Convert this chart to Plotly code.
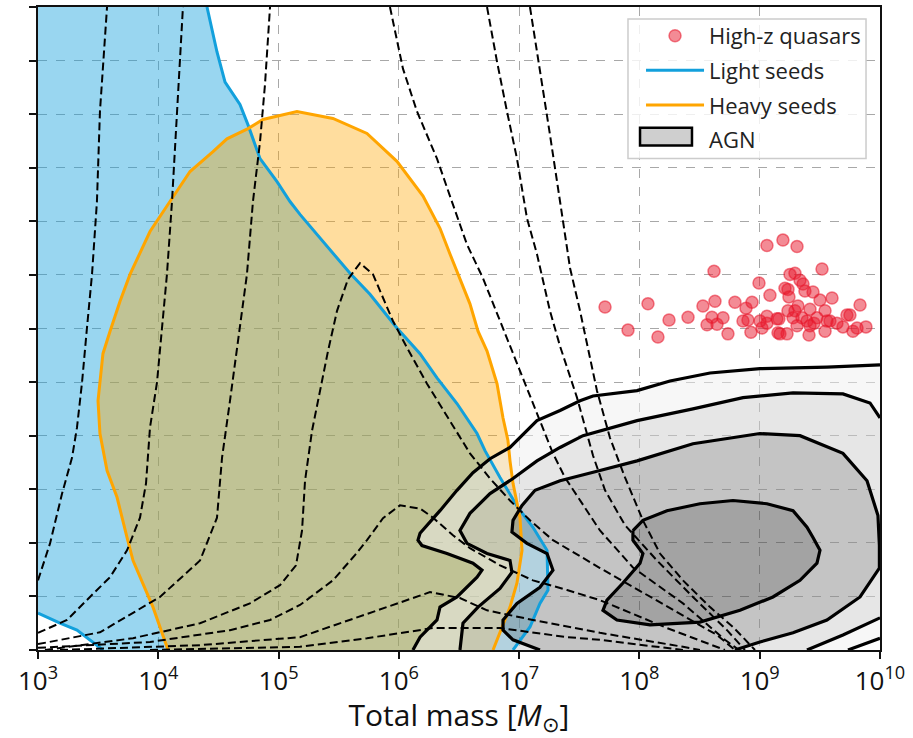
import plotly.graph_objects as go

# ---------------- data (x: log10 total mass [Msun], y: redshift) ----------------
x_exponents = [3, 4, 5, 6, 7, 8, 9, 10]
x_ticktext = ["10<sup>3</sup>", "10<sup>4</sup>", "10<sup>5</sup>", "10<sup>6</sup>",
              "10<sup>7</sup>", "10<sup>8</sup>", "10<sup>9</sup>", "10<sup>10</sup>"]
z_ticks = list(range(0, 13))

# Light seeds contour (main branch, top -> bottom) and small bottom-left branch
light_logm = [4.405, 4.488, 4.555, 4.679, 4.746, 4.846, 4.987, 5.095, 5.178, 5.319, 5.486, 5.594,
              5.760, 5.984, 6.176, 6.317, 6.483, 6.650, 6.716, 6.841, 6.990, 7.115, 7.232, 7.240,
              7.173, 7.090, 6.949]
light_z = [12.0, 11.16, 10.60, 10.18, 9.80, 9.17, 8.74, 8.37, 8.13, 7.76, 7.31, 7.03,
           6.64, 6.01, 5.53, 5.08, 4.60, 4.04, 3.72, 3.22, 2.66, 2.29, 1.86, 1.12,
           0.87, 0.43, 0.0]
light2_logm = [3.540, 3.432, 3.324, 3.183, 3.017, 3.0]
light2_z = [0.0, 0.19, 0.37, 0.50, 0.67, 0.69]

# Heavy seeds contour
heavy_logm = [4.081, 3.956, 3.906, 3.790, 3.740, 3.657, 3.574, 3.540, 3.515, 3.499, 3.515, 3.540,
              3.599, 3.682, 3.765, 3.931, 4.097, 4.264, 4.455, 4.571, 4.746, 4.870, 5.153, 5.452,
              5.735, 5.984, 6.201, 6.342, 6.425, 6.508, 6.591, 6.658, 6.733, 6.816, 6.866, 6.907,
              6.924, 6.949, 7.007, 7.024, 6.982, 6.924, 6.841, 6.783]
heavy_z = [0.0, 0.80, 1.06, 1.67, 2.10, 2.85, 3.35, 3.72, 4.04, 4.65, 5.02, 5.53,
           5.95, 6.51, 7.01, 7.81, 8.37, 8.93, 9.30, 9.54, 9.73, 9.90, 10.05, 9.92,
           9.64, 9.12, 8.47, 7.87, 7.39, 6.94, 6.46, 5.95, 5.58, 4.97, 4.33, 3.91,
           3.53, 3.11, 2.47, 1.86, 1.25, 0.80, 0.32, 0.0]

# AGN density contours (4 levels)
agn1_logm = [6.117, 6.176, 6.317, 6.342, 6.483, 6.650, 6.691, 6.616, 6.400, 6.192, 6.159, 6.176,
             6.342, 6.483, 6.616, 6.758, 6.924, 7.148, 7.340, 7.506, 7.614, 7.980, 8.254, 8.587,
             9.002, 9.559, 10.0]
agn1_z = [0.0, 0.24, 0.56, 0.80, 0.99, 1.36, 1.49, 1.62, 1.80, 1.95, 2.05, 2.18,
          2.60, 2.98, 3.31, 3.57, 3.78, 4.28, 4.47, 4.65, 4.74, 4.84, 5.02, 5.17,
          5.25, 5.28, 5.32]
agn1b_logm = [10.0, 9.734]
agn1b_z = [0.22, 0.0]

agn2_logm = [6.508, 6.533, 6.658, 6.841, 6.940, 6.924, 6.733, 6.566, 6.508, 6.591, 6.758, 6.949,
             7.148, 7.340, 7.531, 7.980, 8.445, 8.861, 9.277, 9.692, 9.917, 10.0]
agn2_z = [0.0, 0.50, 0.80, 1.15, 1.45, 1.67, 1.80, 1.99, 2.23, 2.55, 2.92, 3.20,
          3.53, 3.78, 4.00, 4.28, 4.50, 4.71, 4.80, 4.78, 4.61, 4.33]
agn2b_logm = [10.0, 9.692, 9.393]
agn2b_z = [0.60, 0.28, 0.0]

agn3_logm = [7.173, 6.949, 6.866, 6.866, 6.982, 7.173, 7.281, 7.232, 7.065, 6.940, 6.949, 7.024,
             7.132, 7.340, 7.672, 7.980, 8.445, 9.002, 9.335, 9.692, 9.892, 9.983, 9.995, 9.995,
             9.834, 9.559, 9.277, 9.002, 8.794]
agn3_z = [0.0, 0.19, 0.37, 0.56, 0.87, 1.17, 1.49, 1.80, 1.99, 2.20, 2.42, 2.70,
          2.98, 3.16, 3.35, 3.53, 3.85, 4.04, 4.00, 3.67, 3.16, 2.51, 1.95, 1.53,
          0.99, 0.56, 0.32, 0.15, 0.0]

agn4_logm = [7.946, 8.029, 8.229, 8.503, 8.778, 9.060, 9.277, 9.393, 9.443, 9.501, 9.476, 9.335,
             9.110, 8.836, 8.503, 8.088, 7.813, 7.697, 7.730, 7.863, 8.005, 8.029, 7.946, 7.946]
agn4_z = [2.23, 2.42, 2.60, 2.73, 2.79, 2.73, 2.60, 2.29, 2.10, 1.86, 1.62, 1.30,
          0.99, 0.74, 0.52, 0.47, 0.56, 0.74, 0.93, 1.25, 1.62, 1.80, 2.05, 2.23]

# Dashed (detector) contours: each level = list of segments
snr_levels = [
    # level 1 : left rising branch, right descending branch
    [([3.000, 3.100, 3.200, 3.283, 3.324, 3.366, 3.407, 3.449, 3.490, 3.515, 3.574],
      [1.30, 1.99, 2.92, 3.59, 4.15, 4.99, 6.01, 7.01, 8.37, 10.05, 12.0]),
     ([7.090, 7.173, 7.256, 7.340, 7.423, 7.506, 7.647, 7.755, 7.880, 8.029, 8.171, 8.362, 8.587, 8.778, 8.961],
      [12.0, 10.85, 9.62, 8.37, 7.13, 6.33, 4.84, 3.96, 3.22, 2.42, 1.80, 1.30, 0.80, 0.43, 0.0])],
    # level 2
    [([3.000, 3.241, 3.432, 3.599, 3.740, 3.848, 3.898, 3.914, 3.931, 3.989, 4.031, 4.072, 4.114, 4.156, 4.205],
      [0.32, 0.56, 0.99, 1.36, 1.86, 2.47, 3.11, 3.59, 4.15, 4.99, 6.01, 7.01, 8.37, 9.99, 12.0]),
     ([6.733, 6.816, 6.899, 6.982, 7.065, 7.148, 7.256, 7.340, 7.481, 7.614, 7.714, 7.880, 8.146, 8.445, 8.728, 8.877],
      [12.0, 10.98, 10.05, 9.17, 8.06, 7.39, 6.33, 5.67, 4.71, 3.63, 2.98, 2.33, 1.67, 0.99, 0.37, 0.0])],
    # level 3
    [([3.000, 3.515, 4.014, 4.347, 4.488, 4.530, 4.596, 4.679, 4.737, 4.787, 4.846, 4.887, 4.929],
      [0.11, 0.33, 0.99, 1.67, 2.47, 3.59, 4.65, 6.01, 7.01, 8.37, 9.49, 10.55, 12.0]),
     ([5.926, 6.034, 6.151, 6.317, 6.425, 6.566, 6.699, 6.866, 7.032, 7.198, 7.281, 7.381, 7.506, 7.672, 7.946, 8.362, 8.711, 8.828],
      [12.0, 10.85, 10.05, 9.17, 8.47, 7.57, 6.94, 6.01, 5.08, 4.15, 3.67, 3.22, 2.79, 2.23, 1.54, 0.87, 0.19, 0.0])],
    # level 4 (closed cap)
    [([3.058, 3.790, 4.347, 4.762, 5.012, 5.145, 5.195, 5.220, 5.278, 5.344, 5.411, 5.486, 5.577, 5.677,
       5.785, 5.951, 6.068, 6.234, 6.425, 6.591, 6.758, 6.924, 7.090, 7.281, 7.672, 8.088, 8.645, 8.794],
      [0.0, 0.22, 0.50, 0.87, 1.21, 1.58, 2.23, 3.16, 4.09, 4.84, 5.58, 6.33, 6.92, 7.22,
       7.01, 6.14, 5.64, 4.97, 4.28, 3.67, 3.20, 2.79, 2.42, 2.05, 1.53, 0.99, 0.28, 0.0])],
    # level 5
    [([3.000, 3.931, 4.596, 4.929, 5.178, 5.452, 5.635, 5.735, 5.868, 6.009, 6.176, 6.284, 6.450, 6.591,
       6.841, 7.115, 7.398, 7.672, 8.229, 8.711],
      [0.04, 0.15, 0.37, 0.56, 0.84, 1.30, 1.77, 2.05, 2.46, 2.70, 2.64, 2.47, 2.14, 1.90,
       1.58, 1.30, 1.12, 0.93, 0.41, 0.0])],
    # level 6
    [([3.183, 4.347, 5.178, 5.594, 6.009, 6.259, 6.508, 6.733, 7.115, 7.672, 8.362, 8.503],
      [0.0, 0.09, 0.24, 0.56, 0.89, 1.08, 0.97, 0.74, 0.56, 0.32, 0.06, 0.0])],
    # level 7
    [([3.931, 5.178, 5.735, 6.284, 6.841, 7.398, 7.672, 8.362],
      [0.0, 0.06, 0.22, 0.41, 0.41, 0.24, 0.19, 0.0])],
]

# High-z quasars
qso_logm = [7.714, 7.905, 8.071, 8.154, 8.246, 8.404, 8.528, 8.562, 8.603, 8.628, 8.620, 8.645,
            8.695, 8.736, 8.794, 8.861, 8.886, 8.902, 8.927, 8.936, 8.994, 9.019, 9.060, 9.060,
            9.060, 9.085, 9.152, 9.160, 9.193, 9.210, 9.227, 9.235, 9.243, 9.252, 9.293, 9.293,
            9.310, 9.318, 9.335, 9.351, 9.360, 9.376, 9.393, 9.418, 9.443, 9.451, 9.476, 9.501,
            9.518, 9.543, 9.543, 9.584, 9.601, 9.692, 9.725, 9.750, 9.775, 9.834, 9.883, 9.143,
            9.277, 9.310, 9.410, 9.168, 9.418, 9.002, 9.235, 9.559, 9.642, 9.809]
qso_z = [6.40, 5.97, 6.46, 5.84, 6.16, 6.21, 6.42, 6.07, 6.21, 6.51, 7.07, 6.08,
         6.20, 5.90, 6.49, 6.14, 6.38, 6.16, 5.93, 6.49, 6.85, 6.01, 7.55, 6.23,
         6.10, 6.62, 5.92, 6.18, 7.65, 6.75, 5.90, 6.73, 6.59, 7.01, 7.03, 6.33,
         7.53, 6.42, 6.90, 6.20, 6.83, 6.70, 6.14, 6.36, 6.68, 6.10, 6.20, 6.53,
         7.11, 6.33, 5.95, 6.14, 6.57, 6.03, 6.25, 6.25, 5.95, 6.44, 6.03, 6.18,
         6.20, 6.05, 5.88, 5.90, 6.05, 6.14, 6.33, 6.14, 6.10, 6.01]

# ---------------- styles ----------------
BLUE = "#12a0dc"
ORANGE = "#ffa500"
FONT = "Open Sans"
XMIN, XMAX = 3, 10
ZMIN, ZMAX = 0, 12


def m(v):
    return [10 ** a for a in v]


def joined(*segs):
    xs, ys = [], []
    for i, (a, b) in enumerate(segs):
        if i:
            xs.append(None)
            ys.append(None)
        xs += m(a)
        ys += list(b)
    return xs, ys


fig = go.Figure()
nolegend = dict(showlegend=False, hoverinfo="skip")

# seeds fills
fx = m([XMIN] + light_logm + light2_logm + [XMIN])
fy = [ZMAX] + light_z + light2_z + [ZMAX]
fig.add_trace(go.Scatter(x=fx, y=fy, mode="lines", fill="toself",
                         fillcolor="rgba(18,160,220,0.43)", line=dict(width=0), **nolegend))
fig.add_trace(go.Scatter(x=m(heavy_logm), y=heavy_z, mode="lines", fill="toself",
                         fillcolor="rgba(255,165,0,0.38)", line=dict(width=0), **nolegend))

# AGN filled bands
inv = dict(width=0.5, color="rgba(0,0,0,0)")
p1x, p1y = m(agn1_logm + agn1b_logm), agn1_z + agn1b_z
p2x, p2y = m(agn2_logm + agn2b_logm), agn2_z + agn2b_z
p3x, p3y = m(agn3_logm), agn3_z
p4x, p4y = m(agn4_logm), agn4_z
fig.add_trace(go.Scatter(x=p1x, y=p1y, mode="lines", line=inv, fill="none", **nolegend))
fig.add_trace(go.Scatter(x=p2x, y=p2y, mode="lines", line=inv, fill="tonext",
                         fillcolor="rgba(239,239,239,0.5)", **nolegend))
fig.add_trace(go.Scatter(x=p3x, y=p3y, mode="lines", line=inv, fill="tonext",
                         fillcolor="rgba(205,205,205,0.5)", **nolegend))
fig.add_trace(go.Scatter(x=p4x, y=p4y, mode="lines", line=inv, fill="tonext",
                         fillcolor="rgba(137,137,137,0.5)", **nolegend))
fig.add_trace(go.Scatter(x=p4x, y=p4y, mode="lines", line=inv, fill="toself",
                         fillcolor="rgba(71,71,71,0.5)", **nolegend))

# seeds lines
lx, ly = joined((light_logm, light_z), (light2_logm, light2_z))
fig.add_trace(go.Scatter(x=lx, y=ly, mode="lines", line=dict(color=BLUE, width=3), **nolegend))
fig.add_trace(go.Scatter(x=m(heavy_logm), y=heavy_z, mode="lines",
                         line=dict(color=ORANGE, width=3), **nolegend))

# AGN lines
for segs in [((agn1_logm, agn1_z), (agn1b_logm, agn1b_z)),
             ((agn2_logm, agn2_z), (agn2b_logm, agn2b_z)),
             ((agn3_logm, agn3_z),),
             ((agn4_logm, agn4_z),)]:
    ax_, ay_ = joined(*segs)
    fig.add_trace(go.Scatter(x=ax_, y=ay_, mode="lines",
                             line=dict(color="black", width=3.2), **nolegend))

# dashed contours
for level in snr_levels:
    dx, dy = joined(*level)
    fig.add_trace(go.Scatter(x=dx, y=dy, mode="lines",
                             line=dict(color="black", width=2, dash="8px,4px"), **nolegend))

# quasars
fig.add_trace(go.Scatter(x=m(qso_logm), y=qso_z, mode="markers", name="High-z quasars",
                         marker=dict(size=12, color="rgba(232,24,44,0.5)",
                                     line=dict(color="rgba(232,24,44,0.55)", width=1.5)),
                         legendrank=1, legendgroup="q", hoverinfo="skip"))

# legend-only entries
fig.add_trace(go.Scatter(x=[None], y=[None], mode="lines", name="Light seeds",
                         line=dict(color=BLUE, width=3), legendrank=2, legendgroup="l"))
fig.add_trace(go.Scatter(x=[None], y=[None], mode="lines", name="Heavy seeds",
                         line=dict(color=ORANGE, width=3), legendrank=3, legendgroup="h"))
fig.add_trace(go.Scatter(x=[None], y=[None], mode="lines", name="AGN",
                         line=dict(color="rgba(0,0,0,0)", width=1),
                         legendrank=4, legendgroup="a"))

grid = dict(showgrid=True, gridcolor="#a8a8a8", gridwidth=1, griddash="dash",
            showline=True, linecolor="#111", linewidth=1.6, mirror=True,
            ticks="outside", ticklen=7, tickwidth=1.5, tickcolor="#111", zeroline=False)

fig.update_layout(
    width=913, height=738,
    margin=dict(l=38, r=33, t=5, b=88),
    paper_bgcolor="white", plot_bgcolor="white",
    font=dict(family=FONT, color="#111"),
    xaxis=dict(type="log", range=[XMIN, XMAX],
               tickvals=[10 ** e for e in x_exponents], ticktext=x_ticktext,
               tickfont=dict(size=26, family=FONT, color="#111"),
               title=dict(text="Total mass [<i>M</i><sub>⊙</sub>]", standoff=12,
                          font=dict(size=30, family=FONT, color="#111")),
               **grid),
    yaxis=dict(range=[ZMIN, ZMAX], tickvals=z_ticks, showticklabels=False, **grid),
    legend=dict(x=0.9834, y=0.9876, xanchor="right", yanchor="top",
                bgcolor="rgba(0,0,0,0)", borderwidth=0,
                font=dict(size=22, family=FONT, color="#222"), itemwidth=58,
                traceorder="grouped", tracegroupgap=3),
    shapes=[
        # legend frame
        dict(type="rect", xref="paper", yref="paper",
             x0=0.7007, x1=0.9834, y0=0.7643, y1=0.9814,
             fillcolor="rgba(255,255,255,0.82)", line=dict(color="#cccccc", width=1.5),
             layer="above"),
        # legend swatch for the AGN filled-contour entry
        dict(type="rect", xref="paper", yref="paper",
             x0=0.7150, x1=0.7767, y0=0.7845, y1=0.8124,
             fillcolor="#cfcfcf", line=dict(color="black", width=2.5), layer="above"),
    ],
)

fig.write_html("out.html")
